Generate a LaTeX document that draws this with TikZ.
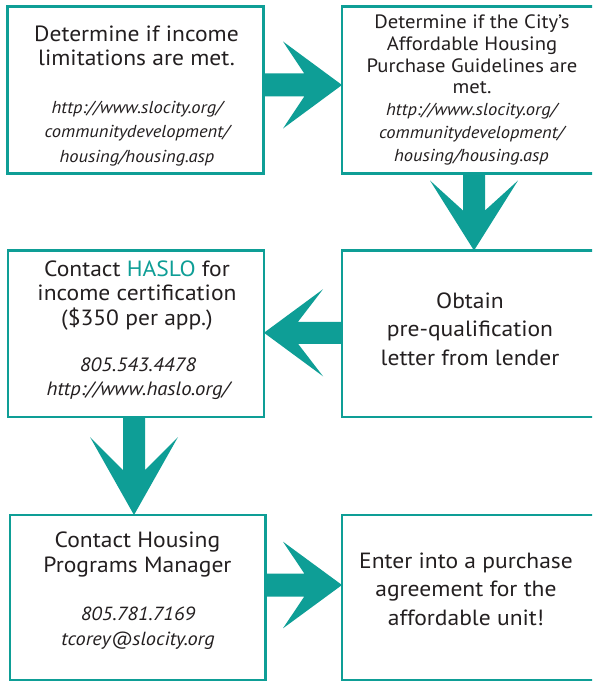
\documentclass[tikz,border=0pt]{standalone}
\usepackage{fontspec}
\setmainfont[FakeStretch=1.07]{PT Sans}
\usetikzlibrary{calc}
\definecolor{tealc}{RGB}{14,158,150}
\definecolor{txt}{RGB}{35,31,32}
% #1 name, #2 start, #3 tip, #4 head length, #5 head half-width, #6 stem/head join, #7 stem half-width
\newcommand\fatarrow[7]{%
  \coordinate (#1m) at ($(#3)!#6!(#2)$);
  \coordinate (#1h) at ($(#3)!#4!(#2)$);
  \fill[tealc] ($(#2)!#7!90:(#3)$) -- ($(#1m)!#7!90:(#3)$) -- ($(#1h)!#5!90:(#3)$) -- (#3)
    -- ($(#1h)!#5!-90:(#3)$) -- ($(#1m)!#7!-90:(#3)$) -- ($(#2)!#7!-90:(#3)$) -- cycle;
}
\begin{document}
\begin{tikzpicture}[x=1pt,y=-1pt,
  box/.style={draw=tealc, line width=2.6pt, minimum width=256pt, inner sep=0pt, outer sep=0pt, anchor=north west},
  main/.style={align=center, text=txt, anchor=base, inner sep=0pt},
  url/.style={align=center, text=txt, anchor=base, inner sep=0pt}]
\useasboundingbox (0,0) rectangle (592,682);
\clip (0,0) rectangle (592,682);
\fill[white] (0,0) rectangle (592,682);

\node[box, minimum height=167pt] (b1) at (7.5,6.5) {};
\node[box, minimum height=167pt] (b2) at (342,6.5) {};
\node[box, minimum height=166.5pt] (b3) at (342,250.5) {};
\node[box, minimum height=166.5pt] (b4) at (8,250.5) {};
\node[box, minimum width=255.5pt, minimum height=165pt] (b5) at (10,515) {};
\node[box, minimum height=165pt] (b6) at (342,515) {};

% texts (anchor = baseline of last line)
\node[main, font=\fontsize{22}{24}\selectfont] (t1) at (136.5,66) {Determine if income\\limitations are met.};
\node[url, font=\fontsize{17.3}{24.5}\selectfont\itshape] (u1) at (137,162) {http://www.slocity.org/\\communitydevelopment/\\housing/housing.asp};

\node[main, font=\fontsize{19.3}{21.7}\selectfont] (t2) at (472,94) {Determine if the City’s\\Affordable Housing\\Purchase Guidelines are\\met.};
\node[url, font=\fontsize{17.3}{23}\selectfont\itshape] (u2) at (471.5,161) {http://www.slocity.org/\\communitydevelopment/\\housing/housing.asp};

\node[main, font=\fontsize{22}{28.4}\selectfont] (t3) at (470,365) {Obtain\\pre-qualification\\letter from lender};

\node[main, font=\fontsize{22}{24.2}\selectfont] (t4) at (137,325) {Contact \textcolor{tealc}{HASLO} for\\income certification\\(\$350 per app.)};
\node[url, font=\fontsize{19.3}{23.5}\selectfont\itshape] (u4) at (138,395) {805.543.4478\\http://www.haslo.org/};

\node[main, font=\fontsize{22}{24.5}\selectfont] (t5) at (137.5,572) {Contact Housing\\Programs Manager};
\node[url, font=\fontsize{19}{25}\selectfont\itshape] (u5) at (138,645) {805.781.7169\\tcorey@slocity.org};

\node[main, font=\fontsize{22}{28.5}\selectfont] (t6) at (466,625) {Enter into a purchase\\agreement for the\\affordable unit!};

% arrows
\coordinate (a1s) at ($(b1.east)+(0,-5)$);
\coordinate (a1t) at (a1s -| b2.west);
\fatarrow{a1}{a1s}{a1t}{59pt}{43.5pt}{37.7pt}{11.5pt}

\coordinate (a2s) at ($(b2.south west)+(132,0)$);
\coordinate (a2t) at (a2s |- b3.north);
\fatarrow{a2}{a2s}{a2t}{70pt}{44pt}{40pt}{11pt}

\coordinate (a3s) at ($(b3.west)+(0,-1)$);
\coordinate (a3t) at (a3s -| b4.east);
\fatarrow{a3}{a3s}{a3t}{59pt}{43.5pt}{34pt}{11pt}

\coordinate (a4s) at ($(b4.south)+(-2,0)$);
\coordinate (a4t) at (a4s |- b5.north);
\fatarrow{a4}{a4s}{a4t}{78pt}{44pt}{45pt}{11pt}

\coordinate (a5s) at ($(b5.east)+(0,-12.5)$);
\coordinate (a5t) at (a5s -| b6.west);
\fatarrow{a5}{a5s}{a5t}{59pt}{43.3pt}{37.7pt}{11.5pt}
\end{tikzpicture}
\end{document}
